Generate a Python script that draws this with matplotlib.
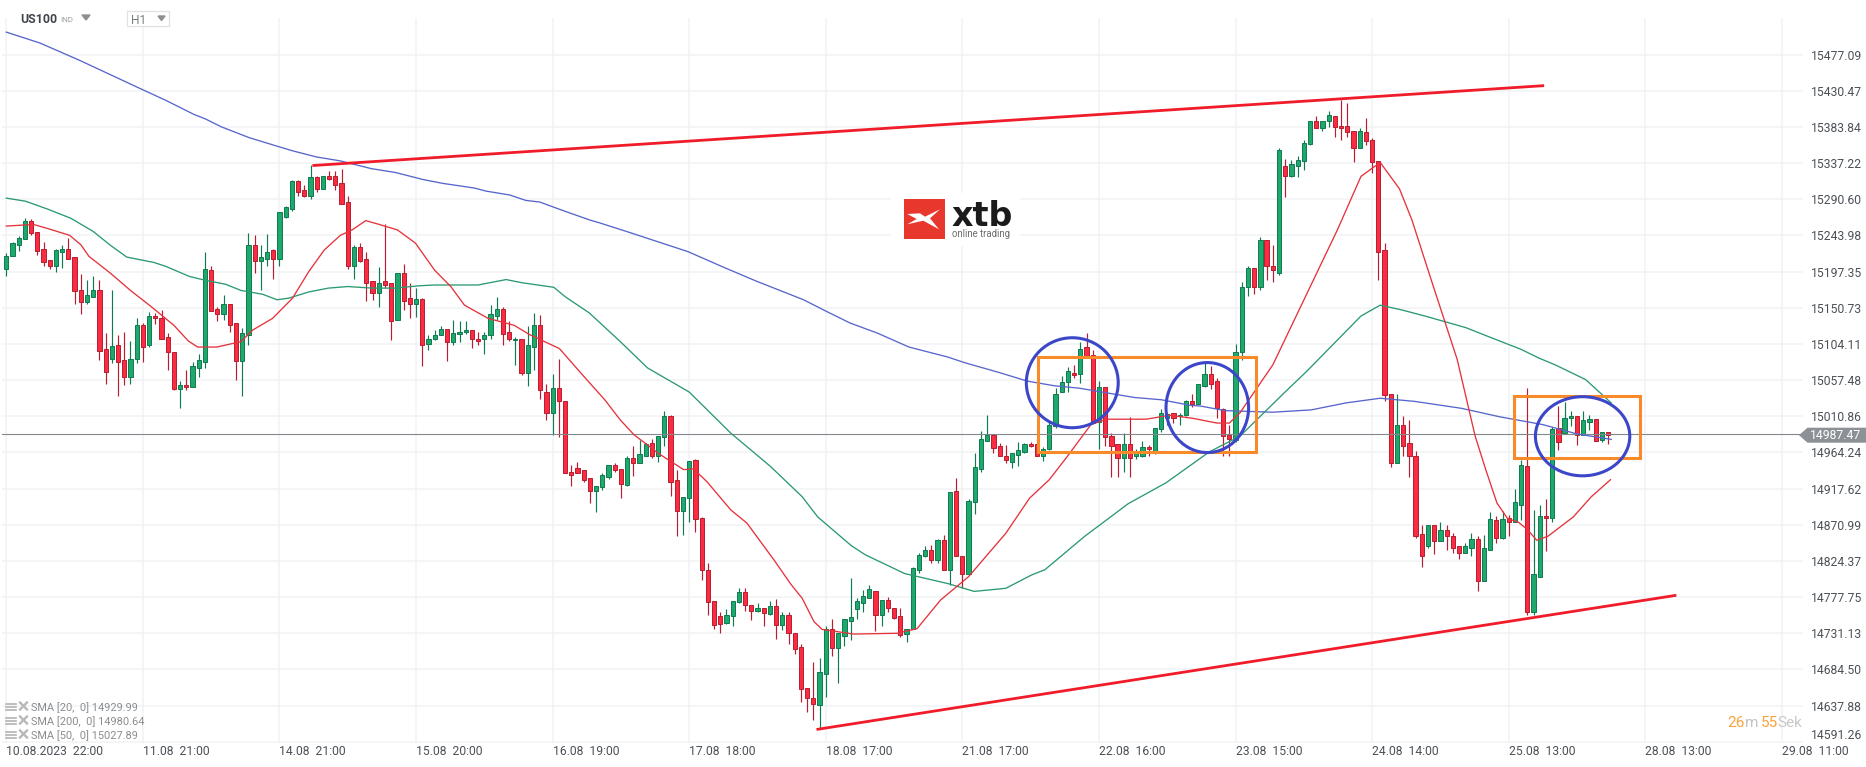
"""US100 H1 candle chart with SMA overlays, trend lines and pattern marks."""
import numpy as np
import matplotlib
matplotlib.use("Agg")
import matplotlib.pyplot as plt
from matplotlib.patches import Ellipse, Polygon, Rectangle

plt.rcParams["font.family"] = ["Roboto", "DejaVu Sans"]

opens = [
    15200, 15217, 15232, 15239, 15262, 15248, 15226, 15212, 15204, 15223,
    15227, 15216, 15173, 15158, 15165, 15174, 15097, 15084, 15102, 15083,
    15062, 15084, 15128, 15103, 15140, 15138, 15113, 15094, 15046, 15051,
    15049, 15073, 15081, 15199, 15149, 15142, 15156, 15131, 15082, 15115,
    15231, 15211, 15214, 15225, 15214, 15268, 15278, 15314, 15302, 15295,
    15319, 15304, 15320, 15320, 15311, 15287, 15205, 15229, 15213, 15185,
    15170, 15185, 15182, 15135, 15196, 15163, 15155, 15162, 15104, 15110,
    15115, 15123, 15107, 15117, 15119, 15122, 15111, 15110, 15115, 15140,
    15149, 15119, 15109, 15111, 15066, 15100, 15128, 15042, 15015, 15047,
    15031, 14939, 14944, 14941, 14931, 14914, 14920, 14933, 14948, 14943,
    14922, 14957, 14951, 14960, 14976, 14960, 14984, 15011, 14928, 14889,
    14906, 14954, 14879, 14812, 14772, 14753, 14744, 14753, 14771, 14784,
    14768, 14760, 14763, 14756, 14766, 14742, 14754, 14731, 14713, 14661,
    14648, 14639, 14679, 14736, 14712, 14728, 14747, 14762, 14770, 14777,
    14786, 14754, 14774, 14763, 14753, 14730, 14736, 14813, 14830, 14839,
    14826, 14851, 14813, 14914, 14830, 14808, 14900, 14943, 14979, 14987,
    14973, 14960, 14952, 14961, 14965, 14975, 14975, 14960, 14969, 14998,
    15042, 15055, 15067, 15065, 15100, 15090, 15003, 15048, 14985, 14975,
    14957, 14975, 14959, 14959, 14971, 14963, 14994, 15009, 15015, 15011,
    15012, 15030, 15027, 15050, 15065, 15056, 15020, 14987, 14980, 15093,
    15177, 15202, 15177, 15238, 15205, 15195, 15333, 15320, 15334, 15340,
    15362, 15392, 15383, 15392, 15398, 15385, 15385, 15379, 15357, 15377,
    15367, 15340, 15225, 15040, 14951, 14999, 14976, 14960, 14859, 14843,
    14870, 14850, 14864, 14857, 14843, 14834, 14841, 14853, 14798, 14839,
    14877, 14854, 14879, 14875, 14897, 14947, 14759, 14804, 14882, 14880,
    14995, 14989, 15008, 15011, 14986, 15004, 15007, 14980, 14990,
]
highs = [
    15221, 15236, 15243, 15266, 15265, 15248, 15235, 15212, 15227, 15232,
    15241, 15216, 15194, 15186, 15192, 15186, 15118, 15174, 15116, 15119,
    15108, 15137, 15131, 15145, 15144, 15148, 15118, 15094, 15056, 15070,
    15081, 15091, 15222, 15204, 15152, 15167, 15156, 15131, 15125, 15247,
    15245, 15232, 15246, 15227, 15274, 15282, 15315, 15315, 15309, 15335,
    15321, 15321, 15327, 15327, 15329, 15295, 15231, 15234, 15222, 15185,
    15203, 15259, 15182, 15196, 15207, 15183, 15176, 15163, 15116, 15122,
    15127, 15123, 15135, 15133, 15133, 15122, 15120, 15120, 15154, 15165,
    15151, 15133, 15113, 15111, 15127, 15144, 15141, 15053, 15065, 15085,
    15031, 14948, 14952, 14941, 14931, 14921, 14937, 14948, 14950, 14943,
    14959, 14972, 14980, 14976, 14982, 14985, 15018, 15012, 14942, 14907,
    14953, 14956, 14881, 14821, 14773, 14758, 14762, 14773, 14789, 14789,
    14768, 14770, 14763, 14772, 14775, 14759, 14758, 14731, 14717, 14661,
    14694, 14699, 14740, 14750, 14731, 14749, 14802, 14777, 14787, 14793,
    14786, 14774, 14778, 14763, 14763, 14737, 14817, 14834, 14844, 14845,
    14853, 14858, 14913, 14931, 14830, 14904, 14963, 14992, 15012, 14987,
    14976, 14974, 14964, 14977, 14976, 14978, 14981, 14971, 15003, 15047,
    15063, 15074, 15077, 15106, 15118, 15096, 15056, 15048, 14989, 14975,
    14989, 15010, 14969, 14979, 14974, 14995, 15020, 15015, 15015, 15015,
    15032, 15040, 15052, 15081, 15076, 15060, 15021, 14999, 15104, 15184,
    15204, 15202, 15242, 15238, 15232, 15356, 15343, 15341, 15346, 15367,
    15392, 15398, 15392, 15404, 15398, 15419, 15415, 15379, 15382, 15395,
    15369, 15340, 15234, 15040, 15040, 15011, 15006, 14966, 14871, 14870,
    14870, 14874, 14870, 14860, 14843, 14848, 14860, 14856, 14858, 14887,
    14882, 14888, 14884, 14917, 14954, 15047, 14890, 14896, 14904, 14997,
    15024, 15029, 15018, 15011, 15018, 15012, 15007, 14990, 14990,
]
lows = [
    15192, 15217, 15224, 15239, 15245, 15219, 15205, 15200, 15197, 15202,
    15214, 15156, 15143, 15156, 15165, 15083, 15053, 15080, 15037, 15051,
    15053, 15079, 15081, 15100, 15130, 15110, 15070, 15045, 15021, 15044,
    15049, 15062, 15073, 15146, 15134, 15135, 15119, 15057, 15037, 15102,
    15196, 15173, 15205, 15188, 15205, 15266, 15275, 15295, 15294, 15291,
    15300, 15304, 15315, 15302, 15284, 15201, 15188, 15210, 15159, 15161,
    15152, 15176, 15109, 15135, 15148, 15138, 15139, 15076, 15096, 15109,
    15115, 15082, 15102, 15106, 15117, 15099, 15103, 15091, 15110, 15135,
    15103, 15108, 15077, 15064, 15050, 15070, 15033, 15006, 14987, 14984,
    14937, 14921, 14937, 14926, 14899, 14887, 14916, 14930, 14939, 14905,
    14921, 14934, 14950, 14959, 14957, 14952, 14973, 14908, 14857, 14858,
    14875, 14861, 14800, 14755, 14737, 14732, 14743, 14740, 14770, 14760,
    14748, 14759, 14740, 14755, 14724, 14735, 14717, 14704, 14642, 14630,
    14619, 14609, 14649, 14702, 14667, 14715, 14722, 14750, 14759, 14777,
    14734, 14740, 14758, 14749, 14726, 14720, 14736, 14809, 14829, 14821,
    14821, 14813, 14793, 14830, 14789, 14806, 14885, 14939, 14979, 14964,
    14959, 14951, 14944, 14947, 14964, 14971, 14960, 14953, 14967, 14996,
    15042, 15042, 15060, 15054, 15087, 15002, 14969, 14972, 14932, 14932,
    14939, 14933, 14956, 14958, 14959, 14962, 14991, 14999, 15002, 14999,
    15011, 15023, 15027, 15048, 15046, 15009, 14959, 14960, 14978, 15083,
    15166, 15168, 15173, 15186, 15184, 15193, 15294, 15319, 15319, 15328,
    15361, 15382, 15378, 15384, 15371, 15367, 15371, 15339, 15356, 15360,
    15324, 15186, 15031, 14945, 14950, 14960, 14933, 14854, 14817, 14841,
    14833, 14850, 14839, 14835, 14827, 14834, 14830, 14786, 14798, 14839,
    14848, 14853, 14856, 14874, 14877, 14755, 14755, 14803, 14837, 14875,
    14967, 14989, 14998, 14974, 14986, 14993, 14979, 14977, 14975,
]
closes = [
    15218, 15234, 15240, 15262, 15247, 15224, 15210, 15204, 15225, 15227,
    15214, 15172, 15158, 15167, 15174, 15095, 15068, 15101, 15081, 15062,
    15084, 15129, 15100, 15140, 15137, 15111, 15093, 15046, 15051, 15048,
    15075, 15083, 15201, 15146, 15142, 15156, 15129, 15082, 15118, 15231,
    15211, 15216, 15223, 15213, 15274, 15280, 15314, 15300, 15295, 15319,
    15304, 15320, 15317, 15309, 15284, 15205, 15229, 15211, 15183, 15170,
    15183, 15180, 15134, 15196, 15160, 15155, 15162, 15103, 15110, 15116,
    15123, 15107, 15118, 15120, 15122, 15110, 15108, 15116, 15142, 15149,
    15117, 15110, 15111, 15066, 15102, 15128, 15044, 15015, 15047, 15030,
    14937, 14935, 14938, 14929, 14914, 14921, 14935, 14948, 14941, 14923,
    14957, 14951, 14962, 14975, 14960, 14985, 15011, 14926, 14889, 14907,
    14953, 14878, 14812, 14771, 14742, 14743, 14755, 14773, 14784, 14767,
    14760, 14763, 14757, 14766, 14742, 14754, 14731, 14711, 14659, 14648,
    14640, 14681, 14736, 14712, 14731, 14749, 14752, 14772, 14779, 14788,
    14754, 14774, 14763, 14751, 14729, 14737, 14815, 14832, 14839, 14826,
    14851, 14813, 14913, 14830, 14808, 14901, 14945, 14981, 14987, 14970,
    14959, 14954, 14963, 14967, 14975, 14972, 14960, 14969, 14999, 15040,
    15055, 15069, 15064, 15098, 15088, 15002, 15048, 14984, 14973, 14957,
    14975, 14957, 14965, 14971, 14968, 14995, 15015, 15014, 15009, 15013,
    15030, 15027, 15052, 15065, 15053, 15021, 14985, 14982, 15093, 15178,
    15202, 15177, 15238, 15204, 15199, 15354, 15320, 15336, 15341, 15363,
    15392, 15383, 15392, 15399, 15384, 15382, 15377, 15357, 15378, 15365,
    15339, 15223, 15038, 14951, 14999, 14973, 14959, 14857, 14831, 14870,
    14850, 14864, 14856, 14841, 14834, 14843, 14853, 14798, 14841, 14878,
    14854, 14878, 14875, 14900, 14948, 14758, 14807, 14882, 14879, 14994,
    14977, 15009, 15011, 14987, 15006, 15007, 14979, 14990, 14987,
]

# SMA traces, read at the bars where they bend
sma20_bars = [
    0, 4.4, 7, 10.2, 12, 13.3, 16.8, 20, 23.2, 27, 29.3, 30.8, 33.9, 37.8, 39.7,
    42.9, 46.1, 48.7, 51.2, 53.8, 55.7, 57.9, 60.1, 63, 65.9, 69, 71.6, 73.8,
    77.6, 81.8, 84.3, 89.1, 92.6, 96.4, 98.9, 101.1, 105.2, 109.1, 110.7, 112.9,
    116.7, 119.3, 123.7, 126.3, 128.2, 130.1, 131.4, 136.5, 143.5, 146.7, 150.5,
    155, 161, 164.8, 168, 170.9, 174.7, 177.2, 183.6, 187.4, 191.2, 195, 197,
    198.7, 199.2, 204, 208.9, 214.4, 218.2, 221.3, 224.4, 226.4, 229.5, 233.7,
    236.6, 238.3, 240.1, 241.8, 243.6, 245.1, 246.5, 248.3, 252.4, 255.3, 258.4,
]
sma20_vals = [
    15256, 15258, 15252, 15244, 15232, 15217, 15195, 15173, 15153, 15128, 15108,
    15100, 15100, 15107, 15122, 15137, 15163, 15197, 15225, 15244, 15251, 15263,
    15258, 15251, 15234, 15199, 15178, 15154, 15137, 15128, 15116, 15098, 15066,
    15032, 15006, 14987, 14962, 14942, 14943, 14926, 14890, 14873, 14825, 14795,
    14776, 14746, 14736, 14730, 14731, 14737, 14774, 14804, 14860, 14905, 14929,
    14959, 15000, 15007, 15007, 15012, 15008, 15002, 15002, 15015, 15021, 15077,
    15159, 15251, 15320, 15338, 15304, 15264, 15187, 15084, 14985, 14942, 14899,
    14879, 14874, 14864, 14851, 14856, 14881, 14907, 14929,
]
sma50_bars = [
    0, 3.1, 6.6, 10.4, 14, 16.8, 19.4, 23.8, 25.7, 29.5, 32.1, 35.3, 37.8, 41.3,
    43.6, 45.5, 48.7, 51.9, 55, 58.9, 62.7, 66.5, 69, 76, 80.5, 83, 88.2, 90,
    93.9, 98.9, 103.3, 110, 116.7, 123.1, 128.2, 130.7, 136.1, 138.4, 144.7,
    151.7, 155.9, 161, 165.1, 167.3, 173.7, 180.7, 186.8, 193.8, 198.7, 206.1,
    209.5, 214.4, 218.2, 221.3, 224.7, 228.5, 235.1, 239.2, 244, 246.8, 249.5,
    254.4, 258.5,
]
sma50_vals = [
    15292, 15288, 15278, 15266, 15249, 15231, 15216, 15209, 15204, 15191, 15186,
    15181, 15173, 15168, 15161, 15163, 15171, 15176, 15178, 15176, 15176, 15179,
    15180, 15180, 15187, 15183, 15177, 15165, 15144, 15107, 15073, 15042, 14989,
    14946, 14907, 14881, 14844, 14832, 14808, 14795, 14785, 14789, 14806, 14813,
    14856, 14898, 14925, 14965, 14985, 15043, 15069, 15109, 15140, 15154, 15148,
    15140, 15125, 15112, 15097, 15086, 15077, 15058, 15028,
]
sma200_bars = [
    0, 5.4, 11.7, 16.8, 21.9, 25.7, 30.2, 32.1, 34.6, 39.1, 43.6, 46.1, 50, 53.8,
    58.8, 62.7, 67.1, 70.3, 75.4, 77.3, 81.1, 83.7, 85.9, 90, 93.9, 95.6, 99.9,
    109.8, 115.5, 120.8, 128.4, 132.1, 135.9, 140.3, 145.4, 151.7, 154.3, 160,
    164.5, 168.9, 172.8, 177.2, 181.7, 186.1, 190.6, 192.3, 196.4, 204, 210.2,
    215.8, 221.3, 226.8, 234.4, 240.6, 247.5, 253, 258.5,
]
sma200_vals = [
    15506, 15492, 15470, 15451, 15432, 15418, 15400, 15394, 15384, 15370, 15359,
    15353, 15345, 15340, 15330, 15325, 15316, 15311, 15305, 15301, 15296, 15289,
    15287, 15275, 15264, 15260, 15249, 15223, 15203, 15185, 15161, 15146, 15131,
    15118, 15100, 15087, 15080, 15067, 15056, 15050, 15047, 15041, 15035, 15032,
    15025, 15024, 15018, 15016, 15019, 15028, 15034, 15030, 15021, 15010, 15000,
    14988, 14981,
]

# hand drawn marks: (bar, price) ends of lines, box and ellipse extents
resistance = ([49.3, 247.7], [15334, 15437])
support = ([130.5, 269.0], [14607, 14780])
boxes = [(166.2, 201.3, 14965, 15087), (242.9, 263.1, 14957, 15037)]
circles = [(164.3, 179.1, 14996, 15112), (186.8, 200.1, 14964, 15080),
           (246.3, 261.5, 14934, 15036)]

last_price = 14987.47
price_ticks = [15477.09, 15430.47, 15383.84, 15337.22, 15290.60, 15243.98,
               15197.35, 15150.73, 15104.11, 15057.48, 15010.86, 14964.24,
               14917.62, 14870.99, 14824.37, 14777.75, 14731.13, 14684.50,
               14637.88, 14591.26]
time_ticks = [0, 22, 44, 66, 88, 110, 132, 154, 176, 198, 220, 242, 264, 286]
time_labels = ["10.08.2023  22:00", "11.08  21:00", "14.08  21:00", "15.08  20:00",
               "16.08  19:00", "17.08  18:00", "18.08  17:00", "21.08  17:00",
               "22.08  16:00", "23.08  15:00", "24.08  14:00", "25.08  13:00",
               "28.08  13:00", "29.08  11:00"]
sma_legend = ["SMA [20,  0] 14929.99", "SMA [200,  0] 14980.64", "SMA [50,  0] 15027.89"]

UP, UP_EDGE, DOWN, DOWN_EDGE = "#1fa86c", "#0f7a50", "#fb2b41", "#b81d30"
SMA_RED, SMA_GREEN, SMA_BLUE = "#e5333c", "#2b9a70", "#5766cc"
GRID, TEXT = "#f1f2f4", "#4b5157"
W, H = 1866, 767

fig = plt.figure(figsize=(W / 100, H / 100), dpi=100, facecolor="white")
ax = fig.add_axes([2 / W, (H - 742.5) / H, 1801 / W, 724.5 / H])
ax.set_xlim(-0.693, 289.4)
ax.set_ylim(14590.2, 15524.2)
for s in ax.spines.values():
    s.set_visible(False)

ax.set_xticks(time_ticks, time_labels)
ax.set_yticks(price_ticks, [f"{p:.2f}" for p in price_ticks])
ax.yaxis.tick_right()
ax.tick_params(axis="both", length=0, labelsize=8.7, labelcolor=TEXT)
ax.tick_params(axis="x", pad=1.5)
ax.tick_params(axis="y", pad=5.8)
for lab in ax.get_xticklabels():
    lab.set_ha("left")
for lab in ax.get_yticklabels():
    lab.set_ha("left")
ax.get_yticklabels()[-1].set_va("bottom")
ax.grid(True, color=GRID, lw=1.1)
ax.set_axisbelow(True)

# candles
bars = np.arange(len(opens))
o, h, l, c = map(np.array, (opens, highs, lows, closes))
up = c >= o
ax.vlines(bars[up], l[up], h[up], color=UP_EDGE, lw=0.85, zorder=2)
ax.vlines(bars[~up], l[~up], h[~up], color=DOWN_EDGE, lw=0.85, zorder=2)
ax.bar(bars[up], (c - o)[up], bottom=o[up], width=0.68, color=UP,
       edgecolor=UP_EDGE, lw=0.7, zorder=3)
ax.bar(bars[~up], (o - c)[~up], bottom=c[~up], width=0.68, color=DOWN,
       edgecolor=DOWN_EDGE, lw=0.7, zorder=3)

ax.axhline(last_price, color="#82888d", lw=0.8, zorder=4)
ax.plot(sma200_bars, sma200_vals, color=SMA_BLUE, lw=0.95, zorder=5)
ax.plot(sma50_bars, sma50_vals, color=SMA_GREEN, lw=0.95, zorder=5)
ax.plot(sma20_bars, sma20_vals, color=SMA_RED, lw=0.95, zorder=5)

# trend lines and pattern marks
ax.plot(*resistance, color="#f01c2a", lw=2.0, zorder=6, solid_capstyle="butt")
ax.plot(*support, color="#f01c2a", lw=2.0, zorder=6, solid_capstyle="butt")
for x0, x1, y0, y1 in boxes:
    ax.add_patch(Rectangle((x0, y0), x1 - x0, y1 - y0, fill=False,
                           ec="#f98a2a", lw=2.2, zorder=7))
for x0, x1, y0, y1 in circles:
    ax.add_patch(Ellipse(((x0 + x1) / 2, (y0 + y1) / 2), x1 - x0, y1 - y0,
                         fill=False, ec="#3c46c9", lw=2.2, zorder=8))

# platform chrome in pixel coordinates
ui = fig.add_axes([0, 0, 1, 1], facecolor="none")
ui.set_xlim(0, W)
ui.set_ylim(H, 0)
ui.axis("off")

ui.text(20, 19.5, "US100", fontsize=8.8, fontweight="bold", color="#3f444a", va="center")
ui.text(60, 20, "IND", fontsize=5.8, color="#9a9da0", va="center")
ui.add_patch(Polygon([(82, 15), (90, 15), (86, 20)], color="#8d9093"))
ui.add_patch(Rectangle((126.5, 11), 42.5, 15, fc="white", ec="#dfe1e3", lw=0.9))
ui.text(131, 20, "H1", fontsize=8.6, color="#7a7d80", va="center")
ui.add_patch(Polygon([(158, 16), (165, 16), (161.5, 20.5)], color="#8d9093"))

# logo
ui.add_patch(Rectangle((891, 193), 129, 53, fc="white", ec="none"))
ui.add_patch(Rectangle((904, 199), 40.5, 40, fc="#e8372c", ec="none"))
ui.add_patch(Polygon([(907.3, 214), (920, 213.3), (925, 216.7), (940, 209.3), (930, 218.3),
                      (939, 229.3), (923.3, 220.7), (907.3, 224.3), (916.7, 219)],
                     fc="white", ec="none"))
ui.text(951.5, 226, "xtb", family="DejaVu Sans", fontsize=24, fontweight="bold",
        color="#1b1b1b", va="baseline")
ui.text(952, 234, "online trading", fontsize=6.9, color="#6c6c6c", va="center")

# last price tag
ui.add_patch(Polygon([(1799, 435.2), (1807.5, 427.7), (1866, 427.7), (1866, 442.7),
                      (1807.5, 442.7)], fc="#8b9196", ec="none"))
ui.text(1810, 435.7, f"{last_price:.2f}", fontsize=8.7, color="white", va="center")

# SMA legend rows
for row, label in zip([707.5, 721.5, 735.5], sma_legend):
    for dy in (-3, 0, 3):
        ui.plot([6, 15.5], [row - 1 + dy] * 2, color="#b3b3b3", lw=1.2)
    ui.plot([20, 27], [row - 5, row + 2], color="#b8b8b8", lw=1.7)
    ui.plot([20, 27], [row + 2, row - 5], color="#b8b8b8", lw=1.7)
    ui.text(31, row, label, fontsize=7.9, color="#8a8d90", va="center")

# countdown
for x, part, col in [(1727, "26", "#f8a338"), (1745, "m", "#c4c4c4"),
                     (1761, "55", "#f8a338"), (1777, "Sek", "#c8c8c8")]:
    ui.text(x, 723, part, fontsize=11, color=col, va="center")

fig.savefig("out.png", dpi=100)
